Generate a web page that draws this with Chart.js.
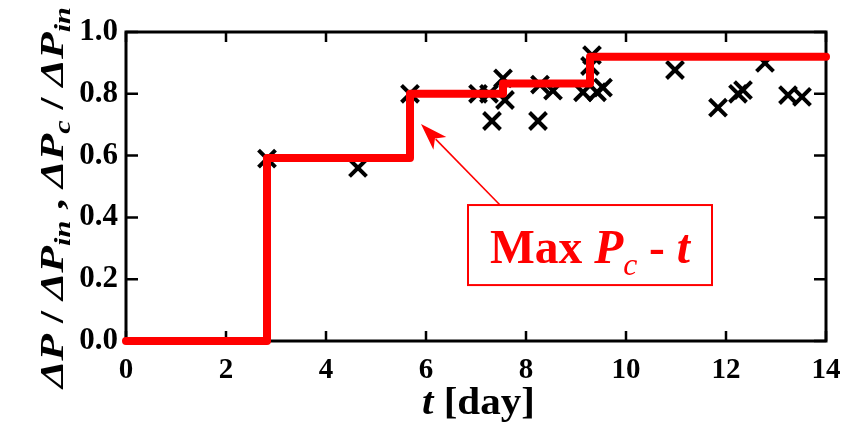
<!DOCTYPE html>
<html>
<head>
<meta charset="utf-8">
<script src="https://cdn.jsdelivr.net/npm/chart.js@4.4.1/dist/chart.umd.min.js"></script>
<style>
  body { margin: 0; background: #fff; }
  canvas { display: block; }
</style>
</head>
<body>
<canvas id="chart" width="856" height="423"></canvas>
<script>
// step line: Max Pc - t
const stepDays = [0, 2.82, 5.68, 7.54, 9.28, 14];
const stepValues = [0, 0.592, 0.80, 0.833, 0.92, 0.92];

// measured points (x marks)
const pointDays = [2.82, 4.64, 5.68, 7.04, 7.26, 7.32, 7.54, 7.58, 8.24, 8.28, 8.54, 9.14, 9.28, 9.32, 9.42, 9.54, 10.98, 11.84, 12.24, 12.34, 12.78, 13.24, 13.52];
const pointValues = [0.59, 0.56, 0.80, 0.80, 0.80, 0.712, 0.85, 0.78, 0.712, 0.83, 0.81, 0.805, 0.89, 0.925, 0.805, 0.82, 0.877, 0.755, 0.80, 0.812, 0.90, 0.796, 0.79];

const xTicks = [0, 2, 4, 6, 8, 10, 12, 14];
const yTicks = [0, 0.2, 0.4, 0.6, 0.8, 1.0];

const SERIF = "'Liberation Serif', 'Times New Roman', serif";
const RED = '#ff0000';

// draw a run of text pieces, optionally squeezed to a given width
function drawRich(ctx, segs, x, y, targetW) {
    let total = 0;
    segs.forEach((s) => { ctx.font = s.f; total += ctx.measureText(s.t).width; });
    let sx = targetW ? targetW / total : 1;
    ctx.save();
    ctx.translate(x, y);
    ctx.scale(sx, 1);
    let cx = 0;
    segs.forEach((s) => {
        ctx.font = s.f;
        ctx.fillText(s.t, cx, s.dy || 0);
        cx += ctx.measureText(s.t).width;
    });
    ctx.restore();
}

const framePlugin = {
    id: 'frame',
    beforeDatasetsDraw(chart) {
        const {ctx, chartArea: a, scales} = chart;
        ctx.save();
        ctx.strokeStyle = '#000';
        ctx.lineWidth = 3;
        ctx.strokeRect(a.left, a.top, a.right - a.left, a.bottom - a.top);
        ctx.lineWidth = 2.5;
        ctx.beginPath();
        xTicks.forEach((v) => {
            let px = scales.x.getPixelForValue(v);
            ctx.moveTo(px, a.bottom); ctx.lineTo(px, a.bottom - 10);
            ctx.moveTo(px, a.top); ctx.lineTo(px, a.top + 10);
        });
        yTicks.forEach((v) => {
            let py = scales.y.getPixelForValue(v);
            ctx.moveTo(a.left, py); ctx.lineTo(a.left + 12, py);
            ctx.moveTo(a.right, py); ctx.lineTo(a.right - 12, py);
        });
        ctx.stroke();
        ctx.restore();
    },
    afterDraw(chart) {
        const {ctx, scales} = chart;
        const X = (v) => scales.x.getPixelForValue(v);
        const Y = (v) => scales.y.getPixelForValue(v);
        ctx.save();
        ctx.fillStyle = '#000';
        ctx.textBaseline = 'alphabetic';

        // y axis title
        const bi = 'italic bold 33px ' + SERIF;
        const b = 'bold 33px ' + SERIF;
        const sub = 'italic bold 23px ' + SERIF;
        ctx.save();
        ctx.translate(63, 388);
        ctx.rotate(-Math.PI / 2);
        drawRich(ctx, [
            {t: 'ΔP', f: bi}, {t: ' / ', f: b}, {t: 'ΔP', f: bi}, {t: 'in', f: sub, dy: 7},
            {t: ' , ', f: b}, {t: 'ΔP', f: bi}, {t: 'c', f: sub, dy: 7},
            {t: ' / ', f: b}, {t: 'ΔP', f: bi}, {t: 'in', f: sub, dy: 7}
        ], 0, 0, 381);
        ctx.restore();

        // x axis title
        drawRich(ctx, [
            {t: 't', f: 'italic bold 38px ' + SERIF},
            {t: ' [day]', f: 'bold 38px ' + SERIF}
        ], 422, 414, 113);

        // annotation box + arrow
        ctx.strokeStyle = RED;
        ctx.fillStyle = RED;
        ctx.lineWidth = 2;
        let bx0 = X(6.84), bx1 = X(11.72), by0 = Y(0.44), by1 = Y(0.181);
        ctx.strokeRect(bx0, by0, bx1 - bx0, by1 - by0);

        let sx = X(7.48), sy = by0, tx = X(5.9), ty = Y(0.702);
        let ang = Math.atan2(ty - sy, tx - sx);
        let hl = 27, hw = 9;
        let bxp = tx - hl * Math.cos(ang), byp = ty - hl * Math.sin(ang);
        ctx.lineWidth = 1.6;
        ctx.beginPath();
        ctx.moveTo(sx, sy);
        ctx.lineTo(bxp + 6 * Math.cos(ang), byp + 6 * Math.sin(ang));
        ctx.stroke();
        ctx.beginPath();
        ctx.moveTo(tx, ty);
        ctx.lineTo(bxp - hw * Math.sin(ang), byp + hw * Math.cos(ang));
        ctx.lineTo(bxp + 7 * Math.cos(ang), byp + 7 * Math.sin(ang));
        ctx.lineTo(bxp + hw * Math.sin(ang), byp - hw * Math.cos(ang));
        ctx.closePath();
        ctx.fill();

        drawRich(ctx, [
            {t: 'Max ', f: 'bold 48px ' + SERIF},
            {t: 'P', f: 'italic bold 48px ' + SERIF},
            {t: 'c', f: 'italic 32px ' + SERIF, dy: 12},
            {t: ' - ', f: 'bold 48px ' + SERIF},
            {t: 't', f: 'italic bold 48px ' + SERIF}
        ], 490, 263, 200);
        ctx.restore();
    }
};

new Chart(document.getElementById('chart'), {
    type: 'scatter',
    data: {
        datasets: [{
            type: 'line',
            label: 'Max Pc - t',
            data: stepDays.map((d, i) => ({x: d, y: stepValues[i]})),
            stepped: 'before',
            borderColor: RED,
            borderWidth: 8,
            borderCapStyle: 'round',
            borderJoinStyle: 'round',
            pointRadius: 0,
            fill: false,
            clip: false
        }, {
            label: 'points',
            data: pointDays.map((d, i) => ({x: d, y: pointValues[i]})),
            pointStyle: 'crossRot',
            pointRadius: 12,
            pointBorderWidth: 4,
            borderColor: '#000',
            backgroundColor: '#000',
            clip: false
        }]
    },
    options: {
        responsive: false,
        animation: false,
        layout: {padding: {top: 32, right: 30, left: 0, bottom: 0}},
        plugins: {legend: {display: false}, tooltip: {enabled: false}},
        scales: {
            x: {
                type: 'linear', min: 0, max: 14,
                grid: {display: false, drawTicks: false},
                border: {display: false},
                ticks: {
                    stepSize: 2, color: '#000', padding: 12,
                    font: {family: SERIF, size: 29, weight: 'bold'}
                },
                afterFit(s) { s.height = 82; }
            },
            y: {
                min: 0, max: 1,
                grid: {display: false, drawTicks: false},
                border: {display: false},
                ticks: {
                    stepSize: 0.2, color: '#000', padding: 8,
                    font: {family: SERIF, size: 31, weight: 'bold'},
                    callback: (v) => v.toFixed(1)
                },
                afterFit(s) { s.width = 126; }
            }
        }
    },
    plugins: [framePlugin]
});
</script>
</body>
</html>
